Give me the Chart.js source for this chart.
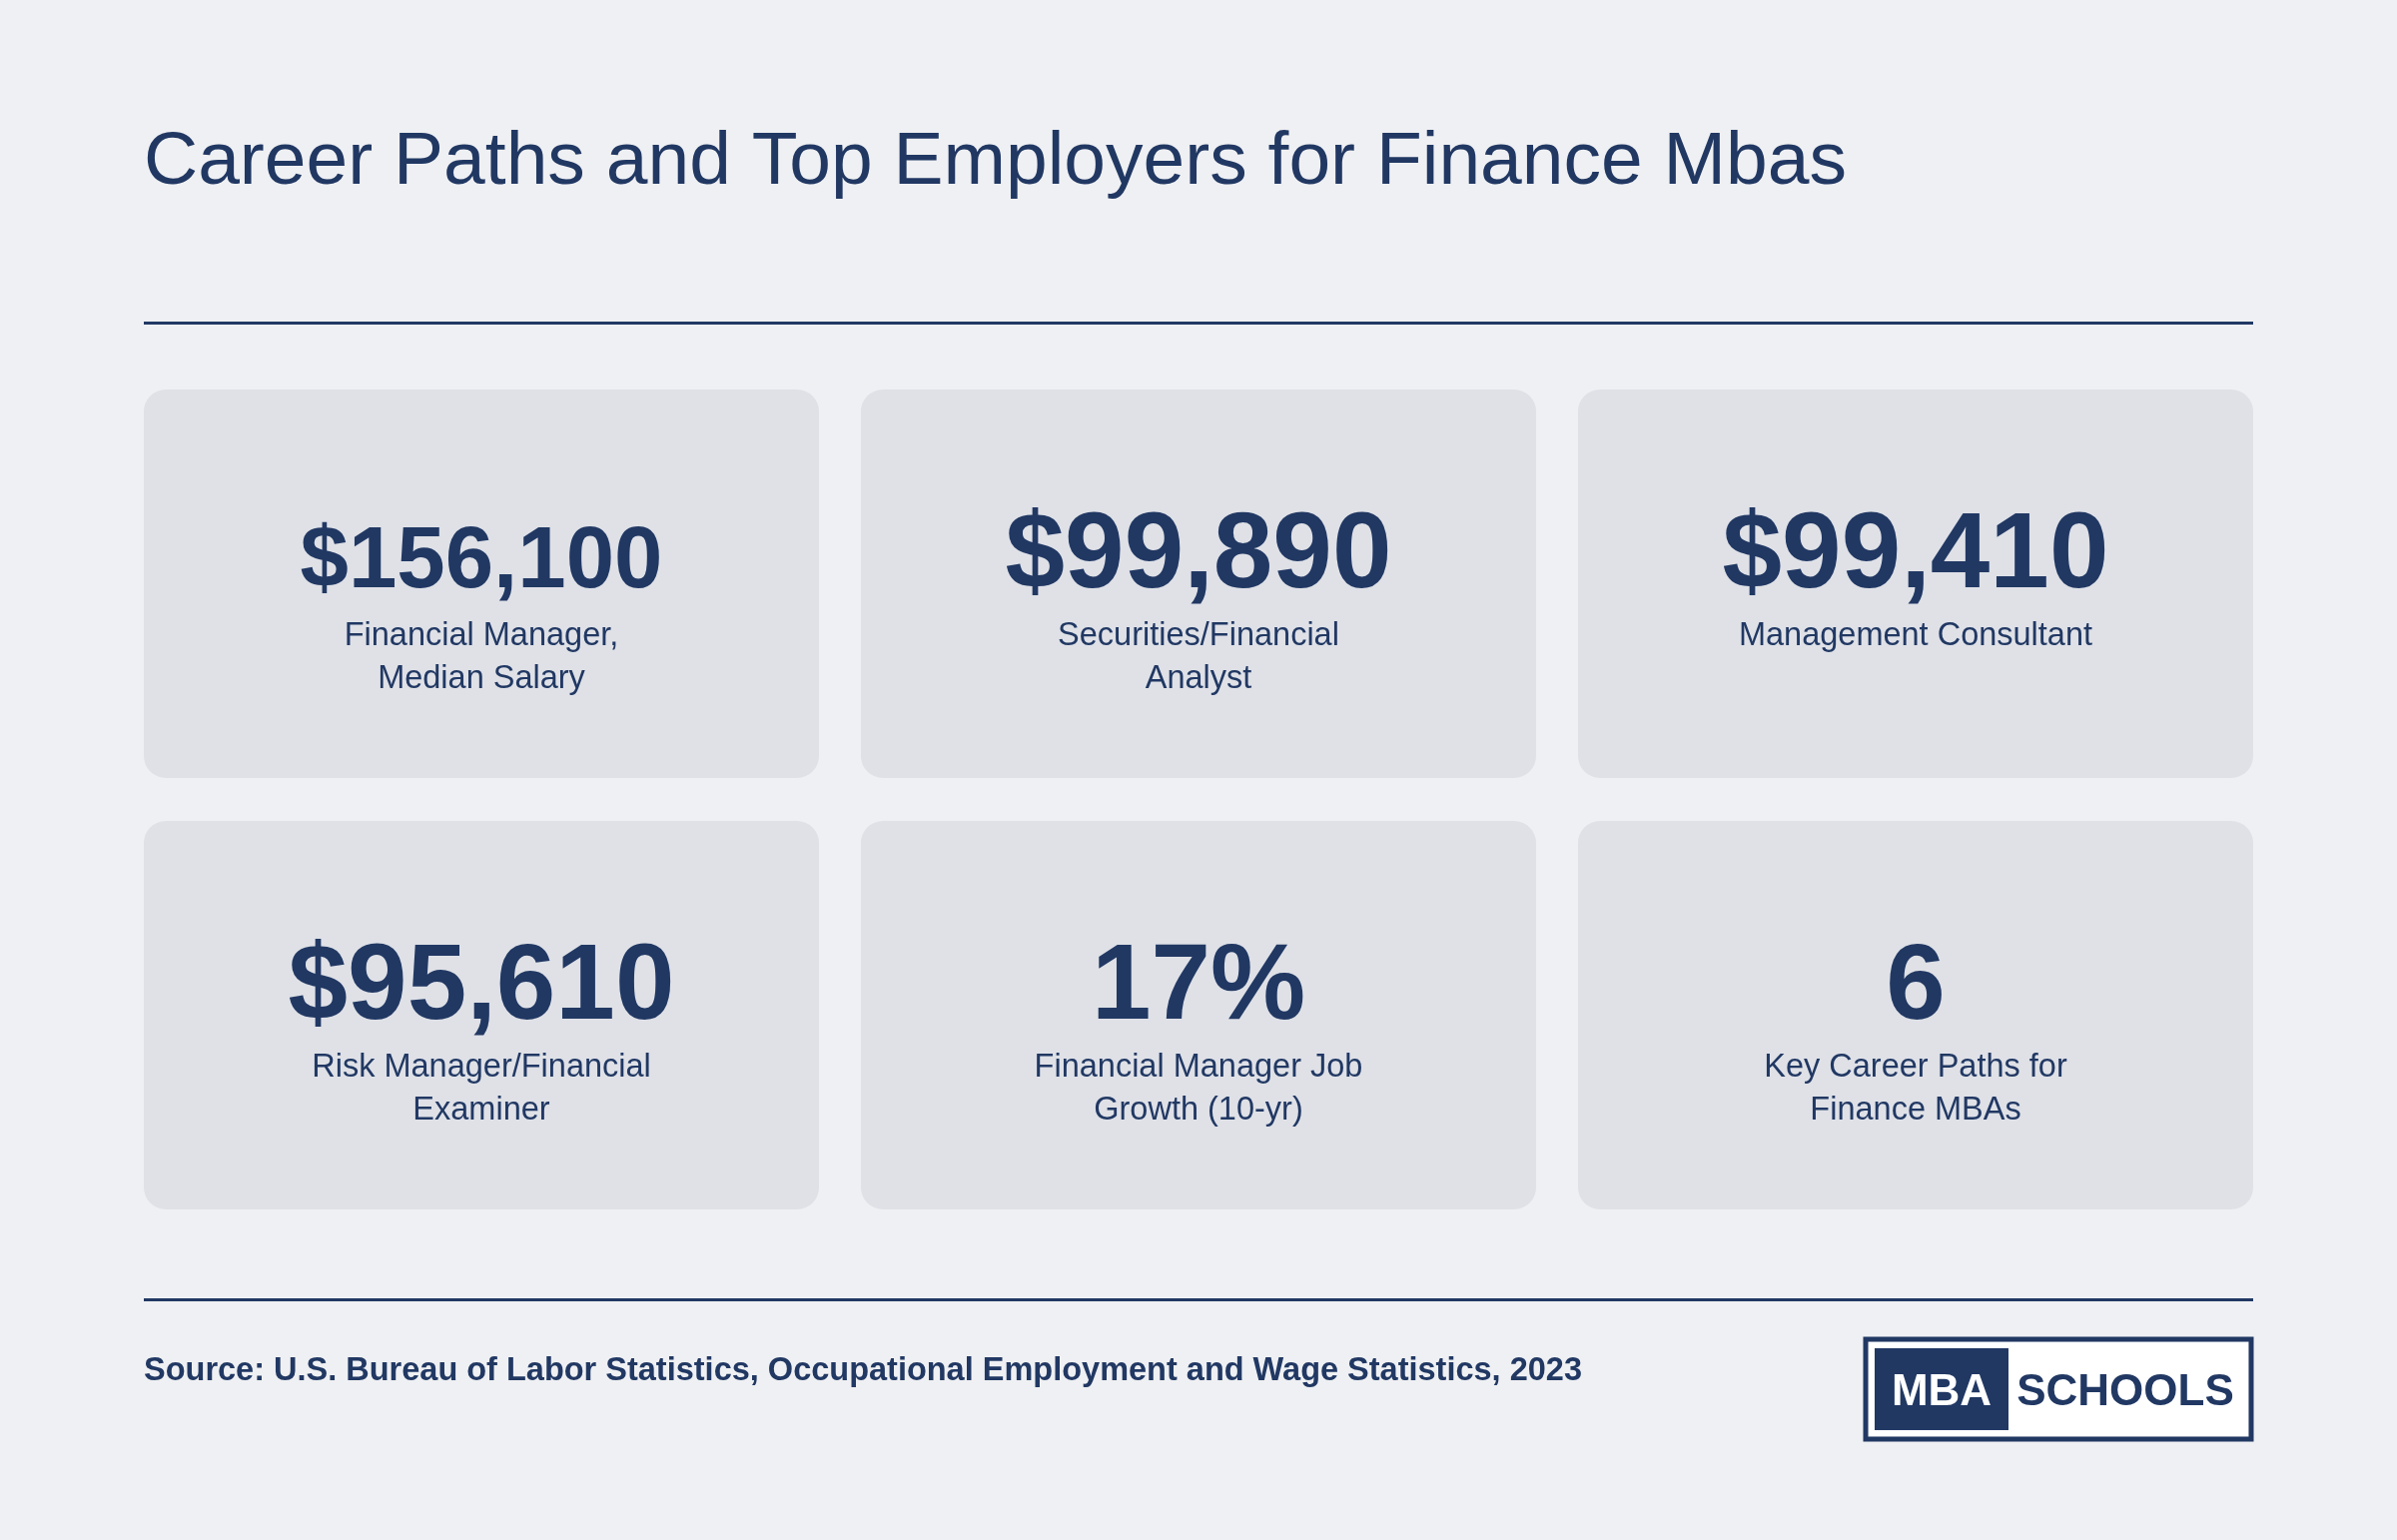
<!DOCTYPE html>
<html><head><meta charset="utf-8">
<script src="https://cdn.jsdelivr.net/npm/chart.js@4"></script>
<style>html,body{margin:0;background:#eff0f3}#c{display:block}</style>
</head><body>
<div style="width:2400px;height:1542px"><canvas id="c"></canvas></div>
<script>
const title = "Career Paths and Top Employers for Finance Mbas";
const values = ["$156,100", "$99,890", "$99,410", "$95,610", "17%", "6"];
const labels = [
  ["Financial Manager,", "Median Salary"],
  ["Securities/Financial", "Analyst"],
  ["Management Consultant"],
  ["Risk Manager/Financial", "Examiner"],
  ["Financial Manager Job", "Growth (10-yr)"],
  ["Key Career Paths for", "Finance MBAs"]
];
const source = "Source: U.S. Bureau of Labor Statistics, Occupational Employment and Wage Statistics, 2023";

const navy = "#213863";
const font = "'Liberation Sans', Arial, sans-serif";

function rr(ctx, x, y, w, h, r) {
  ctx.beginPath();
  ctx.moveTo(x + r, y);
  ctx.arcTo(x + w, y, x + w, y + h, r);
  ctx.arcTo(x + w, y + h, x, y + h, r);
  ctx.arcTo(x, y + h, x, y, r);
  ctx.arcTo(x, y, x + w, y, r);
  ctx.closePath();
}

const cardsPlugin = {
  id: "cards",
  afterDraw(chart) {
    const ctx = chart.ctx;
    ctx.save();
    ctx.fillStyle = "#eff0f3";
    ctx.fillRect(0, 0, 2400, 1542);

    // title
    ctx.fillStyle = navy;
    ctx.textBaseline = "alphabetic";
    ctx.textAlign = "left";
    ctx.font = "75px " + font;
    ctx.fillText(title, 144, 184);

    // rules
    ctx.fillRect(144, 322, 2112, 3);
    ctx.fillRect(144, 1300, 2112, 3);

    // cards
    const colX = [144, 862, 1580], rowY = [390, 822], w = 676, h = 389;
    values.forEach((v, i) => {
      const x = colX[i % 3], y = rowY[Math.floor(i / 3)];
      ctx.fillStyle = "#dfe1e7";
      rr(ctx, x, y, w, h, 22);
      ctx.fill();
      ctx.fillStyle = navy;
      ctx.textAlign = "center";
      ctx.font = "bold " + (v.length > 7 ? 87 : 107) + "px " + font;
      ctx.fillText(v, x + w / 2, y + 198);
      ctx.font = "32.5px " + font;
      labels[i].forEach((l, j) => ctx.fillText(l, x + w / 2, y + 256 + j * 43));
    });

    // source
    ctx.textAlign = "left";
    ctx.font = "bold 32.5px " + font;
    ctx.fillText(source, 144, 1382);

    // logo
    ctx.strokeStyle = navy;
    ctx.lineWidth = 5;
    ctx.strokeRect(1868, 1341, 386, 100);
    ctx.fillStyle = "#fff";
    ctx.fillRect(1871, 1344, 380, 94);
    ctx.fillStyle = navy;
    ctx.fillRect(1877, 1350, 134, 82);
    ctx.font = "bold 44px " + font;
    ctx.textAlign = "center";
    ctx.fillStyle = "#fff";
    ctx.fillText("MBA", 1944, 1407);
    ctx.fillStyle = navy;
    ctx.fillText("SCHOOLS", 2128, 1407);
    ctx.restore();
  }
};

new Chart(document.getElementById("c"), {
  type: "bar",
  data: { labels: values, datasets: [{ data: [] }] },
  options: {
    responsive: true,
    maintainAspectRatio: false,
    animation: false,
    plugins: { legend: { display: false }, tooltip: { enabled: false } },
    scales: { x: { display: false }, y: { display: false } }
  },
  plugins: [cardsPlugin]
});
</script>
</body></html>
